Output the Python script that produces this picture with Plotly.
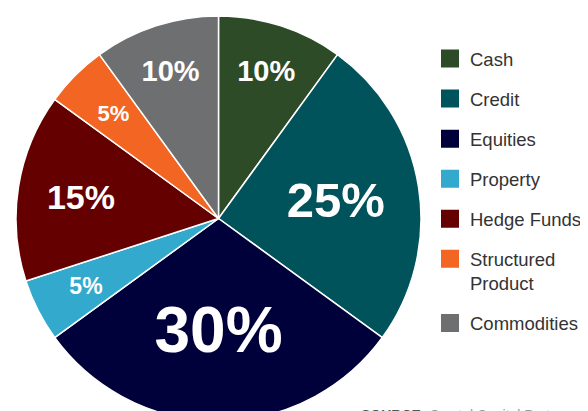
import plotly.graph_objects as go

categories = ["Cash", "Credit", "Equities", "Property", "Hedge Funds", "Structured Product", "Commodities"]
legend_labels = ["Cash", "Credit", "Equities", "Property", "Hedge Funds", "Structured<br>Product", "Commodities"]
values = [10, 25, 30, 5, 15, 5, 10]
colors = ["#2E4B28", "#00525B", "#00003A", "#33A9CE", "#650000", "#F26522", "#6E6F71"]
label_sizes = [29, 49, 64, 23, 34, 22, 29]

W, H = 588, 421          # figure size (page has an 8px body margin)
CX, CY, R = 210.5, 210.5, 202.5   # pie centre / radius in figure pixels
R_SMALL = 172            # radius of the label ring used for the thin slices

small = [v <= 5 for v in values]
main_text = ["" if s else f"{v}%" for v, s in zip(values, small)]
small_text = [f"{v}%" if s else "" for v, s in zip(values, small)]

fig = go.Figure()
fig.add_trace(go.Pie(
    labels=categories,
    values=values,
    sort=False,
    direction="clockwise",
    rotation=0,
    marker=dict(colors=colors, line=dict(color="white", width=1.5)),
    text=main_text,
    texttemplate="%{text}",
    textposition="inside",
    insidetextorientation="horizontal",
    textfont=dict(family="Liberation Sans", size=label_sizes, color="white", weight="bold"),
    showlegend=False,
    domain=dict(x=[(CX - R) / W, (CX + R) / W], y=[0, 1]),
    hoverinfo="label+percent",
))

# transparent label ring for the thin slices (same data, smaller radius)
fig.add_trace(go.Pie(
    labels=categories,
    values=values,
    sort=False,
    direction="clockwise",
    rotation=0,
    marker=dict(colors=["rgba(0,0,0,0)"] * len(values), line=dict(width=0)),
    text=small_text,
    texttemplate="%{text}",
    textposition="inside",
    insidetextorientation="horizontal",
    textfont=dict(family="Liberation Sans", size=label_sizes, color="white", weight="bold"),
    showlegend=False,
    domain=dict(x=[(CX - R_SMALL) / W, (CX + R_SMALL) / W],
                y=[1 - (CY + R_SMALL) / H, 1 - (CY - R_SMALL) / H]),
    hoverinfo="skip",
))

for name, col in zip(legend_labels, colors):
    fig.add_trace(go.Scatter(
        x=[None], y=[None], mode="markers", name=name, legendgroup=name,
        marker=dict(symbol="square", size=16, color=col, line=dict(color=col, width=2)),
        showlegend=True, hoverinfo="skip",
    ))

fig.add_annotation(
    x=351 / W, y=1 - 397 / H, xref="paper", yref="paper", xanchor="left", yanchor="top",
    text="<b>SOURCE:</b> <span style='color:#9a9a9a'>Crystal Capital Partners</span>",
    showarrow=False, font=dict(family="Liberation Sans", size=14, color="#555555"),
)

fig.update_layout(
    width=W, height=H,
    margin=dict(l=0, r=0, t=0, b=0),
    paper_bgcolor="white", plot_bgcolor="white",
    xaxis=dict(visible=False), yaxis=dict(visible=False),
    legend=dict(
        x=422 / W, y=1 - 32 / H, xanchor="left", yanchor="top",
        font=dict(family="Liberation Sans", size=18.5, color="#333333"),
        tracegroupgap=13, valign="top", traceorder="grouped",
        bgcolor="rgba(0,0,0,0)",
    ),
)

fig.write_html("out.html")
